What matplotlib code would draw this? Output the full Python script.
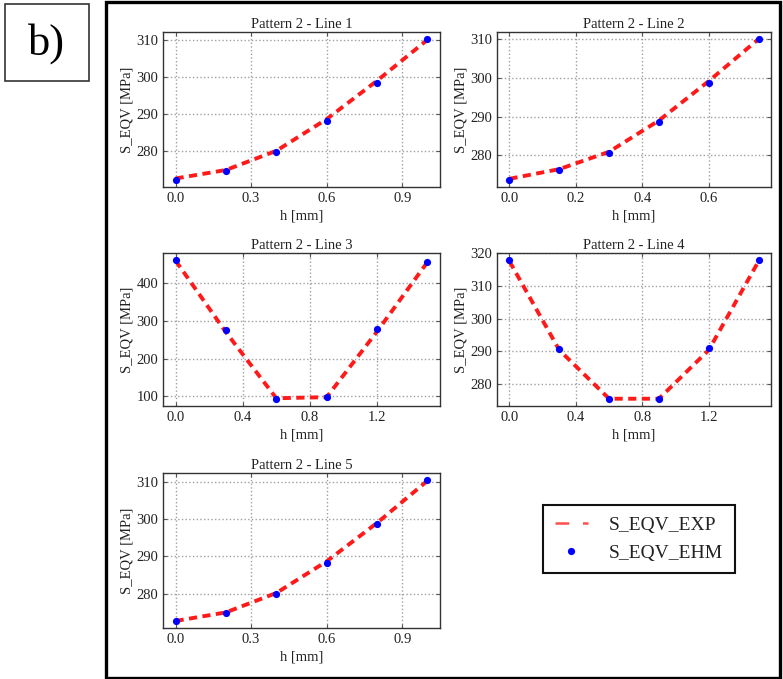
import matplotlib
matplotlib.use("Agg")
import matplotlib.pyplot as plt
from matplotlib.lines import Line2D
from matplotlib.patches import Rectangle

plt.rcParams['font.family'] = ['Liberation Serif', 'DejaVu Serif']

# ---- data ----
titles = ["Pattern 2 - Line 1", "Pattern 2 - Line 2", "Pattern 2 - Line 3",
          "Pattern 2 - Line 4", "Pattern 2 - Line 5"]

h1 = [0.0, 0.2, 0.4, 0.6, 0.8, 1.0]
exp1 = [272.5, 274.8, 280.0, 288.6, 299.0, 310.1]
ehm1 = [272.1, 274.5, 279.8, 288.0, 298.5, 310.3]

h2 = [0.0, 0.15, 0.3, 0.45, 0.6, 0.75]
exp2 = [273.9, 276.4, 280.9, 289.0, 299.2, 310.1]
ehm2 = [273.6, 276.3, 280.7, 288.5, 298.6, 310.0]

h3 = [0.0, 0.3, 0.6, 0.9, 1.2, 1.5]
exp3 = [460.0, 270.0, 95.0, 98.0, 272.0, 456.0]
ehm3 = [461.8, 274.7, 92.9, 98.2, 278.2, 457.4]

h4 = [0.0, 0.3, 0.6, 0.9, 1.2, 1.5]
exp4 = [317.6, 290.4, 275.5, 275.5, 290.4, 317.6]
ehm4 = [318.0, 290.7, 275.4, 275.4, 291.0, 318.0]

h5 = [0.0, 0.2, 0.4, 0.6, 0.8, 1.0]
exp5 = [272.7, 275.0, 280.2, 288.7, 299.0, 310.3]
ehm5 = [272.7, 274.8, 280.0, 288.2, 298.6, 310.5]

xticks = [[0.0, 0.3, 0.6, 0.9], [0.0, 0.2, 0.4, 0.6], [0.0, 0.4, 0.8, 1.2],
          [0.0, 0.4, 0.8, 1.2], [0.0, 0.3, 0.6, 0.9]]
yticks = [[280, 290, 300, 310], [280, 290, 300, 310], [100, 200, 300, 400],
          [280, 290, 300, 310, 320], [280, 290, 300, 310]]

series = [(h1, exp1, ehm1), (h2, exp2, ehm2), (h3, exp3, ehm3),
          (h4, exp4, ehm4), (h5, exp5, ehm5)]

xlabel = "h [mm]"
ylabel = "S_EQV [MPa]"
legend_labels = ["S_EQV_EXP", "S_EQV_EHM"]

W, H = 783, 679
fig = plt.figure(figsize=(W / 100, H / 100), dpi=100)


def rect(l, t, r, b):
    return [l / W, 1 - b / H, (r - l) / W, (b - t) / H]


boxes = [(163, 32, 440, 187), (497, 32, 771, 187),
         (163, 253, 440, 406), (497, 253, 771, 406),
         (163, 473, 440, 628)]

RED = '#ff1a1a'
BLUE = '#0000ff'
DASH = (0, (2.1, 1.4))

for i, (box, (hx, ex, eh)) in enumerate(zip(boxes, series)):
    ax = fig.add_axes(rect(*box))
    ax.plot(hx, ex, color=RED, lw=2.8, linestyle=DASH, zorder=2)
    ax.plot(hx, eh, linestyle='none', marker='o', ms=5.2, color=BLUE,
            markeredgewidth=0, zorder=3)
    ax.margins(0.05)
    ax.set_xticks(xticks[i])
    ax.set_yticks(yticks[i])
    ax.set_xticklabels([f"{v:.1f}" for v in xticks[i]])
    ax.set_yticklabels([str(v) for v in yticks[i]])
    ax.grid(True, linestyle=':', color='#a0a0a0', lw=1)
    ax.tick_params(direction='in', length=3, labelsize=10.5, top=True,
                   right=True, color='#555555', labelcolor='#222222')
    for s in ax.spines.values():
        s.set_color('#333333')
        s.set_linewidth(1.0)
    ax.set_title(titles[i], fontsize=10.5, color='#222222', pad=3)
    ax.set_xlabel(xlabel, fontsize=10.5, color='#222222', labelpad=3)
    ax.set_ylabel(ylabel, fontsize=10.5, color='#222222', labelpad=2)

# legend
handles = [Line2D([], [], color='#ff5050', lw=1.8, linestyle=(0, (5.5, 5.5))),
           Line2D([], [], linestyle='none', marker='o', ms=5.2, color=BLUE,
                  markeredgewidth=0)]
leg = fig.legend(handles, legend_labels, loc='upper left',
                 bbox_to_anchor=(543 / W, 1 - 505 / H), fontsize=14,
                 handlelength=1.7, handletextpad=1.1, borderpad=0.6,
                 labelspacing=0.5, fancybox=False, framealpha=1,
                 edgecolor='#111111', borderaxespad=0)
leg.get_frame().set_linewidth(1.5)
for t in leg.get_texts():
    t.set_color('#222222')

# outer frame
fig.add_artist(Rectangle((106 / W, 1 - 678 / H), (780 - 106) / W, (678 - 2) / H,
                         transform=fig.transFigure, fill=False,
                         edgecolor='black', lw=2.4))
# "b)" box
fig.add_artist(Rectangle((5 / W, 1 - 81 / H), (89 - 5) / W, (81 - 4) / H,
                         transform=fig.transFigure, fill=False,
                         edgecolor='#333333', lw=1.2))
fig.text(47 / W, 1 - 44 / H, "b)", fontsize=32, ha='center', va='center',
         color='black')

fig.savefig("out.png", dpi=100)
